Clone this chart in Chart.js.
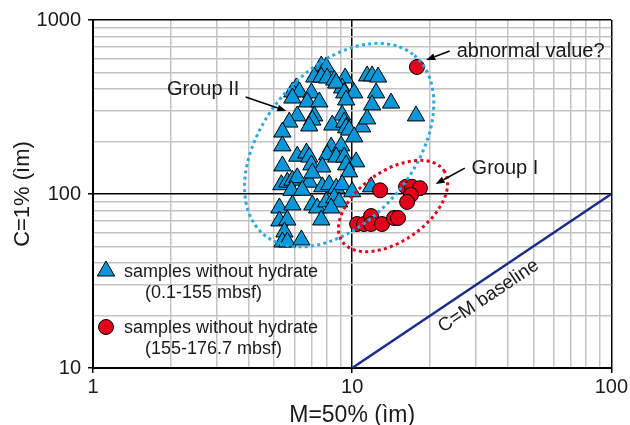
<!DOCTYPE html>
<html>
<head>
<meta charset="utf-8">
<script src="https://cdn.jsdelivr.net/npm/chart.js@4.4.0/dist/chart.umd.min.js"></script>
<style>
  body { margin: 0; background: #fff; }
  canvas { display: block; }
</style>
</head>
<body>

<canvas id="myChart" width="630" height="425"></canvas>

<script>
// axis labels
const xTickLabels = [1, 10, 100];
const yTickLabels = [10, 100, 1000];

// samples without hydrate, 0.1-155 mbsf (M=50%, C=1%)
const shallowM = [7.60, 7.94, 7.14, 7.60, 8.01, 8.53, 9.40, 9.15, 8.68, 11.42, 11.94, 12.59,
  6.09, 5.88, 6.26, 6.96, 9.32, 10.18, 12.37, 5.88, 6.71, 7.47, 9.48, 11.94, 14.13, 17.63,
  9.15, 7.14, 6.14, 5.72, 7.02, 8.38, 9.32, 9.48, 10.93, 11.42, 9.74, 5.38, 10.18, 5.38,
  6.83, 8.30, 9.07, 6.14, 6.66, 6.83, 8.01, 8.68, 9.32, 10.36, 5.38, 6.96, 9.48, 7.67, 9.74,
  5.33, 5.62, 5.88, 6.14, 6.83, 7.02, 5.83, 6.42, 7.67, 8.16, 8.68, 9.15, 10.0, 11.83,
  5.24, 5.88, 7.02, 7.33, 7.94, 8.53, 8.91, 8.30, 5.24, 5.62, 7.60, 5.48, 5.38, 5.62, 6.37];
const shallowC = [544, 537, 470, 470, 464, 452, 464, 407, 434, 477, 477, 470,
  407, 386, 386, 381, 381, 381, 381, 356, 338, 338, 347, 325, 333, 281,
  284, 281, 281, 259, 266, 249, 259, 240, 243, 270, 233, 227, 213, 189,
  246, 186, 189, 165, 172, 163, 168, 163, 163, 153, 145, 147, 147, 143, 134,
  113, 117, 120, 124, 117, 132, 105, 105, 110, 113, 108, 113, 103, 110,
  83.1, 86.5, 86.5, 83.1, 90.0, 94.8, 90.0, 83.1, 70.0, 70.9, 70.9, 60.5, 53.0, 53.0, 54.4];

// samples without hydrate, 155-176.7 mbsf
const deepM = [10.45, 11.12, 11.83, 11.83, 13.04, 14.51, 15.03, 12.82, 16.14, 17.01, 18.27, 16.86, 16.29, 17.78];
const deepC = [67.2, 67.2, 74.7, 67.2, 67.2, 72.8, 72.8, 105, 110, 110, 108, 98.7, 90.0, 537];

// C=M baseline
const baselineM = [10, 100];
const baselineC = [10, 100];

const FONT = "'Liberation Sans', Arial, sans-serif";
const BLUE = '#0a96d7';
const RED = '#e2001a';

function toPoints(xs, ys) {
  return xs.map((x, i) => ({ x: x, y: ys[i] }));
}

// 1..9 x decade steps for the grid
function logGrid(min, max) {
  const out = [];
  for (let e = min; e < max; e *= 10) {
    for (let k = 1; k < 10; k++) out.push({ value: k * e });
  }
  out.push({ value: max });
  return out;
}

function isDecade(v) {
  const l = Math.log10(v);
  return Math.abs(l - Math.round(l)) < 1e-9;
}

// dotted group outlines, arrows and notes
const groupRings = [
  { m: 8.91, c: 191, rx: 117, ry: 75, angle: -50, color: '#2aa9e0' },
  { m: 14.38, c: 85.3, rx: 62, ry: 35, angle: -35, color: '#e2001a' }
];
const notes = [
  { text: 'abnormal value?', m: 25.3, c: 612 },
  { text: 'Group I', m: 28.9, c: 130 },
  { text: 'Group II', m: 1.93, c: 371 }
];
const arrows = [
  { from: [23.8, 663], to: [19.3, 589] },
  { from: [27.2, 141], to: [21.0, 114] },
  { from: [3.88, 361], to: [5.57, 300] }
];

const annotations = {
  id: 'annotations',
  afterDatasetsDraw(chart) {
    const ctx = chart.ctx;
    const xs = chart.scales.x, ys = chart.scales.y;
    const px = (m, c) => [xs.getPixelForValue(m), ys.getPixelForValue(c)];

    ctx.save();
    // group outlines
    groupRings.forEach(g => {
      const [cx, cy] = px(g.m, g.c);
      ctx.beginPath();
      ctx.ellipse(cx, cy, g.rx, g.ry, g.angle * Math.PI / 180, 0, Math.PI * 2);
      ctx.setLineDash([3, 3.3]);
      ctx.lineWidth = 3;
      ctx.strokeStyle = g.color;
      ctx.stroke();
    });
    ctx.setLineDash([]);

    // arrows
    arrows.forEach(a => {
      const [x1, y1] = px(a.from[0], a.from[1]);
      const [x2, y2] = px(a.to[0], a.to[1]);
      const ang = Math.atan2(y2 - y1, x2 - x1);
      const hl = 9, hw = 3.5;
      const bx = x2 - hl * Math.cos(ang), by = y2 - hl * Math.sin(ang);
      ctx.strokeStyle = '#000';
      ctx.lineWidth = 1.5;
      ctx.beginPath();
      ctx.moveTo(x1, y1);
      ctx.lineTo(bx, by);
      ctx.stroke();
      ctx.fillStyle = '#000';
      ctx.beginPath();
      ctx.moveTo(x2, y2);
      ctx.lineTo(bx - hw * Math.sin(ang), by + hw * Math.cos(ang));
      ctx.lineTo(bx + hw * Math.sin(ang), by - hw * Math.cos(ang));
      ctx.closePath();
      ctx.fill();
    });

    // notes
    ctx.fillStyle = '#1a1a1a';
    ctx.font = '20px ' + FONT;
    ctx.textAlign = 'left';
    ctx.textBaseline = 'alphabetic';
    notes.forEach(n => {
      const [x, y] = px(n.m, n.c);
      ctx.fillText(n.text, x, y);
    });

    // baseline label
    const [bx0, by0] = px(baselineM[0], baselineC[0]);
    const [bx1, by1] = px(baselineM[1], baselineC[1]);
    const [lx, ly] = px(33.6, 25.9);
    ctx.translate(lx, ly);
    ctx.rotate(Math.atan2(by1 - by0, bx1 - bx0));
    ctx.textAlign = 'center';
    ctx.textBaseline = 'middle';
    ctx.font = '19px ' + FONT;
    ctx.fillText('C=M baseline', 0, 0);
    ctx.restore();

    // legend inside the plot
    const left = chart.chartArea.left;
    const items = [
      { style: 'triangle', color: BLUE, lines: ['samples without hydrate', '(0.1-155 mbsf)'], y: 277 },
      { style: 'circle', color: RED, lines: ['samples without hydrate', '(155-176.7 mbsf)'], y: 333 }
    ];
    ctx.save();
    ctx.font = '18px ' + FONT;
    ctx.fillStyle = '#1a1a1a';
    ctx.textBaseline = 'alphabetic';
    items.forEach(it => {
      ctx.fillStyle = it.color;
      ctx.strokeStyle = '#000';
      ctx.lineWidth = 1;
      Chart.helpers.drawPoint(ctx, { pointStyle: it.style, radius: it.style === 'circle' ? 7.5 : 10, borderWidth: 1 }, left + 13, it.y - 6);
      ctx.fillStyle = '#1a1a1a';
      ctx.fillText(it.lines[0], left + 31, it.y);
      ctx.fillText(it.lines[1], left + 52, it.y + 21);
    });
    ctx.restore();
  }
};

const ctx = document.getElementById('myChart').getContext('2d');
const myChart = new Chart(ctx, {
  type: 'scatter',
  data: {
    datasets: [
      {
        label: 'samples without hydrate (155-176.7 mbsf)',
        data: toPoints(deepM, deepC),
        pointStyle: 'circle',
        pointRadius: 7.5,
        backgroundColor: RED,
        borderColor: '#000',
        borderWidth: 1,
        order: 1
      },
      {
        label: 'samples without hydrate (0.1-155 mbsf)',
        data: toPoints(shallowM, shallowC),
        pointStyle: 'triangle',
        pointRadius: 10,
        backgroundColor: BLUE,
        borderColor: '#000',
        borderWidth: 1,
        order: 2
      },
      {
        type: 'line',
        label: 'C=M baseline',
        data: toPoints(baselineM, baselineC),
        borderColor: '#1d2b8a',
        borderWidth: 2.5,
        pointRadius: 0,
        fill: false,
        order: 3
      }
    ]
  },
  options: {
    responsive: false,
    animation: false,
    layout: { padding: { top: 20, right: 17, left: 0, bottom: 0 } },
    plugins: {
      legend: { display: false },
      tooltip: { enabled: false }
    },
    scales: {
      x: {
        type: 'logarithmic',
        min: 1,
        max: 100,
        afterBuildTicks: s => { s.ticks = logGrid(1, 100); },
        afterFit: s => { s.height = 57; },
        border: { color: '#000', width: 2 },
        grid: {
          color: c => isDecade(c.tick.value) ? '#000' : '#c4c4c4',
          lineWidth: 1.5,
          tickLength: 5,
          tickColor: c => isDecade(c.tick.value) ? '#000' : 'rgba(0,0,0,0)'
        },
        ticks: {
          autoSkip: false,
          maxRotation: 0,
          padding: 2,
          color: '#1a1a1a',
          font: { family: FONT, size: 20 },
          callback: v => xTickLabels.includes(v) ? String(v) : ''
        },
        title: {
          display: true,
          text: 'M=50% (ìm)',
          color: '#1a1a1a',
          font: { family: FONT, size: 23, lineHeight: 0.85 },
          padding: { top: 0, bottom: 0 }
        }
      },
      y: {
        type: 'logarithmic',
        min: 10,
        max: 1000,
        afterBuildTicks: s => { s.ticks = logGrid(10, 1000); },
        afterFit: s => { s.width = 93; },
        border: { color: '#000', width: 2 },
        grid: {
          color: c => isDecade(c.tick.value) ? '#000' : '#c4c4c4',
          lineWidth: 1.5,
          tickLength: 5,
          tickColor: c => isDecade(c.tick.value) ? '#000' : 'rgba(0,0,0,0)'
        },
        ticks: {
          autoSkip: false,
          padding: 7,
          color: '#1a1a1a',
          font: { family: FONT, size: 20 },
          callback: v => yTickLabels.includes(v) ? String(v) : ''
        },
        title: {
          display: true,
          text: 'C=1% (ìm)',
          color: '#1a1a1a',
          font: { family: FONT, size: 22, lineHeight: 1.2 },
          padding: { top: 10, bottom: 0 }
        }
      }
    }
  },
  plugins: [annotations]
});
</script>

</body>
</html>
